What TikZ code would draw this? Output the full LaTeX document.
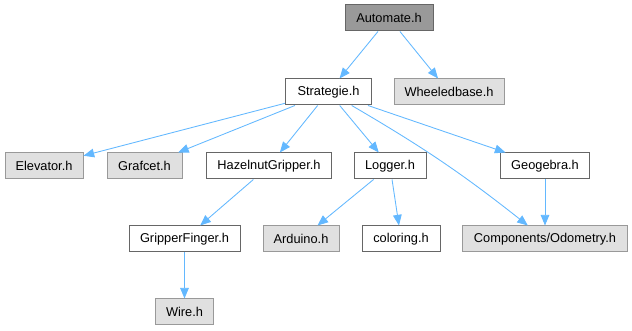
\documentclass[tikz,border=0pt]{standalone}
\usepackage{fontspec}
\setmainfont{Liberation Sans}
\usetikzlibrary{arrows.meta}
\definecolor{edgeblue}{HTML}{63B8FF}
\definecolor{darkfill}{HTML}{999999}
\definecolor{darkline}{HTML}{666666}
\definecolor{lightfill}{HTML}{E0E0E0}
\definecolor{lightline}{HTML}{999999}
\begin{document}
\begin{tikzpicture}[x=0.75pt,y=-0.75pt,
  box/.style={rectangle, inner sep=0pt, minimum height=19.5pt, line width=0.75pt,
    font=\fontsize{9.6pt}{11pt}\selectfont, text=black},
  rootbox/.style={box, draw=darkline, fill=darkfill},
  whitebox/.style={box, draw=darkline, fill=white},
  graybox/.style={box, draw=lightline, fill=lightfill},
  dep/.style={draw=edgeblue, line width=0.65pt, -{Triangle[length=8pt,width=6.5pt]}}
]
\useasboundingbox (0,0) rectangle (632,331);
\node[rootbox, minimum width=66pt] (aut) at (389,18) {Automate.h};
\node[whitebox, minimum width=64.5pt] (str) at (328.5,92) {Strategie.h};
\node[graybox, minimum width=82.5pt] (whe) at (449,92) {Wheeledbase.h};
\node[graybox, minimum width=58.5pt] (ele) at (44,166) {Elevator.h};
\node[graybox, minimum width=56.25pt] (gra) at (144.5,166) {Grafcet.h};
\node[whitebox, minimum width=93.75pt] (haz) at (269,166) {HazelnutGripper.h};
\node[whitebox, minimum width=54pt] (log) at (390,166) {Logger.h};
\node[whitebox, minimum width=66.75pt] (geo) at (545,166) {Geogebra.h};
\node[whitebox, minimum width=83.25pt] (gri) at (184.5,239) {GripperFinger.h};
\node[graybox, minimum width=57pt] (ard) at (301,239) {Arduino.h};
\node[whitebox, minimum width=58.5pt] (col) at (401,239) {coloring.h};
\node[graybox, minimum width=123.75pt] (odo) at (545,239) {Components/Odometry.h};
\node[graybox, minimum width=43.5pt] (wir) at (184.5,312) {Wire.h};

\draw[dep] (aut) -- (str);
\draw[dep] (aut) -- (whe);
\draw[dep] (str) -- (ele);
\draw[dep] (str) -- (gra);
\draw[dep] (str) -- (haz);
\draw[dep] (str) -- (log);
\draw[dep] (str) to[bend left=4] (odo);
\draw[dep] (str) -- (geo);
\draw[dep] (haz) -- (gri);
\draw[dep] (log) -- (ard);
\draw[dep] (log) -- (col);
\draw[dep] (geo) -- (odo);
\draw[dep] (gri) -- (wir);
\end{tikzpicture}
\end{document}
